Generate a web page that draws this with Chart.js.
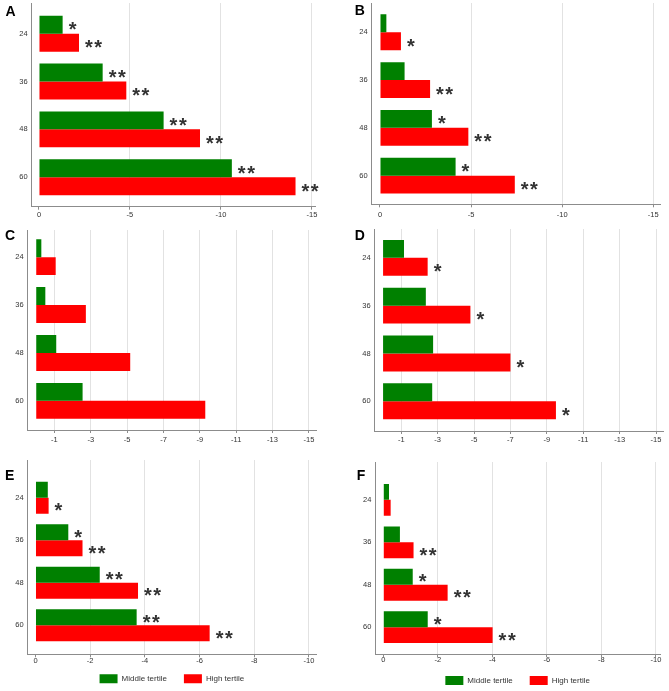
<!DOCTYPE html>
<html>
<head>
<meta charset="utf-8">
<script src="https://cdn.jsdelivr.net/npm/chart.js@4/dist/chart.umd.min.js"></script>
<style>
html, body { margin: 0; padding: 0; background: #fff; width: 669px; height: 691px; overflow: hidden; }
.panel { position: absolute; }
.panel canvas { display: block; }
.letter { position: absolute; font: bold 14px "Liberation Sans", Arial, sans-serif; line-height: 14px; color: #000; }
</style>
</head>
<body>
<div class="panel" style="left:0px;top:0px"><canvas id="cA" width="335" height="225"></canvas></div>
<div class="panel" style="left:335px;top:0px"><canvas id="cB" width="334" height="225"></canvas></div>
<div class="panel" style="left:0px;top:225px"><canvas id="cC" width="335" height="230"></canvas></div>
<div class="panel" style="left:335px;top:225px"><canvas id="cD" width="334" height="230"></canvas></div>
<div class="panel" style="left:0px;top:455px"><canvas id="cE" width="335" height="250"></canvas></div>
<div class="panel" style="left:335px;top:455px"><canvas id="cF" width="334" height="250"></canvas></div>
<div class="letter" style="left:5.5px;top:4px">A</div>
<div class="letter" style="left:354.7px;top:3px">B</div>
<div class="letter" style="left:5px;top:228px">C</div>
<div class="letter" style="left:354.7px;top:228px">D</div>
<div class="letter" style="left:5px;top:468px">E</div>
<div class="letter" style="left:356.7px;top:468px">F</div>
<script>
// ---------- data ----------
const months = [24, 36, 48, 60];
const seriesNames = ['Middle tertile', 'High tertile'];

const ticksAB = [0, -5, -10, -15];
const ticksCD = [-1, -3, -5, -7, -9, -11, -13, -15];
const ticksEF = [0, -2, -4, -6, -8, -10];

const midA  = [-1.3, -3.5, -6.85, -10.6];
const highA = [-2.2, -4.8, -8.85, -14.1];
const midB  = [-0.35, -1.35, -2.85, -4.15];
const highB = [-1.15, -2.75, -4.85, -7.4];
const midC  = [-0.28, -0.5, -1.1, -2.55];
const highC = [-1.07, -2.73, -5.17, -9.3];
const midD  = [-1.15, -2.35, -2.75, -2.7];
const highD = [-2.45, -4.8, -7.0, -9.5];
const midE  = [-0.45, -1.2, -2.35, -3.7];
const highE = [-0.48, -1.72, -3.75, -6.37];
const midF  = [-0.21, -0.61, -1.08, -1.63];
const highF = [-0.27, -1.11, -2.36, -4.01];

const starsMidA  = ['*', '**', '**', '**'];
const starsHighA = ['**', '**', '**', '**'];
const starsMidB  = ['', '', '*', '*'];
const starsHighB = ['*', '**', '**', '**'];
const starsMidC  = ['', '', '', ''];
const starsHighC = ['', '', '', ''];
const starsMidD  = ['', '', '', ''];
const starsHighD = ['*', '*', '*', '*'];
const starsMidE  = ['', '*', '**', '**'];
const starsHighE = ['*', '**', '**', '**'];
const starsMidF  = ['', '', '*', '*'];
const starsHighF = ['', '**', '**', '**'];

// ---------- styles / layout ----------
const GREEN = '#008000';
const RED = '#ff0000';
const AXIS = '#8c8c8c';
const GRID = '#e2e2e2';
const TEXT = '#333333';
const FONT = '"Liberation Sans", Arial, sans-serif';

Chart.defaults.font.family = FONT;
Chart.defaults.color = TEXT;

const panels = [
  { canvas: 'cA', mid: midA, high: highA, sm: starsMidA, sh: starsHighA, ticks: ticksAB,
    w: 335, h: 225, left: 31.7, right: 315, top: 3, bottom: 206.7,
    xMin: -15.17, xMax: 0.40, yMin: 16.3, yMax: 67.4, tickPad: 1, legend: false },
  { canvas: 'cB', mid: midB, high: highB, sm: starsMidB, sh: starsHighB, ticks: ticksAB,
    w: 334, h: 225, left: 36.7, right: 325, top: 3, bottom: 204.3,
    xMin: -15.37, xMax: 0.455, yMin: 16.65, yMax: 67.2, tickPad: 2.8, legend: false },
  { canvas: 'cC', mid: midC, high: highC, sm: starsMidC, sh: starsHighC, ticks: ticksCD,
    w: 335, h: 230, left: 27.7, right: 316.7, top: 5, bottom: 205,
    xMin: -15.43, xMax: 0.47, yMin: 17.2, yMax: 67.3, tickPad: 2, legend: false },
  { canvas: 'cD', mid: midD, high: highD, sm: starsMidD, sh: starsHighD, ticks: ticksCD,
    w: 334, h: 230, left: 39.7, right: 328.3, top: 4, bottom: 206,
    xMin: -15.4, xMax: 0.46, yMin: 16.76, yMax: 67.46, tickPad: 1, legend: false },
  { canvas: 'cE', mid: midE, high: highE, sm: starsMidE, sh: starsHighE, ticks: ticksEF,
    w: 335, h: 250, left: 27.7, right: 316, top: 5, bottom: 199.3,
    xMin: -10.26, xMax: 0.285, yMin: 13.35, yMax: 68.2, tickPad: -0.8, legend: true, legendBoxTop: 219.2 },
  { canvas: 'cF', mid: midF, high: highF, sm: starsMidF, sh: starsHighF, ticks: ticksEF,
    w: 334, h: 250, left: 40.3, right: 325, top: 7, bottom: 199.3,
    xMin: -10.15, xMax: 0.293, yMin: 13.3, yMax: 67.66, tickPad: -1.5, legend: true, legendBoxTop: 221 }
];

const LEGEND_BOX_W = 18, LEGEND_BOX_H = 9, LEGEND_FONT = 8, LEGEND_PAD = 17;
const X_AXIS_H_LEGEND = 12;

// significance marks drawn next to the end of each bar
const starPlugin = {
  id: 'stars',
  afterDatasetsDraw(chart, args, opts) {
    const ctx = chart.ctx;
    ctx.save();
    ctx.font = 'bold 20px ' + FONT;
    ctx.fillStyle = TEXT;
    ctx.textAlign = 'left';
    ctx.textBaseline = 'alphabetic';
    try { ctx.letterSpacing = '1.5px'; } catch (e) {}
    (opts.marks || []).forEach((marks, di) => {
      const meta = chart.getDatasetMeta(di);
      meta.data.forEach((el, i) => {
        const m = marks[i];
        if (!m) return;
        ctx.fillText(m, el.x + 6, el.y + 11.5);
      });
    });
    ctx.restore();
  }
};

// moves the legend row so its boxes sit at the requested height
const legendPlacePlugin = {
  id: 'legendPlace',
  afterLayout(chart, args, opts) {
    const lg = chart.legend;
    if (!lg || opts.boxTop == null || !lg.options.display) return;
    const pad = lg.options.labels.padding;
    const d = (lg.top + pad) - opts.boxTop;
    lg.top -= d;
    lg.bottom -= d;
  }
};

function makePanel(p) {
  const legendH = p.legend ? (Math.max(LEGEND_FONT, LEGEND_BOX_H) + LEGEND_PAD + 10) : 0;
  const pl = 2;
  const yW = p.left - pl;
  const pr = p.w - p.right;
  let xH, pb;
  if (p.legend) {
    xH = X_AXIS_H_LEGEND;
    pb = p.h - legendH - xH - p.bottom;
  } else {
    pb = 0;
    xH = p.h - p.bottom;
  }
  const toPts = arr => arr.map((v, i) => ({ x: v, y: months[i] }));
  new Chart(document.getElementById(p.canvas), {
    type: 'bar',
    data: {
      datasets: [
        { label: seriesNames[0], data: toPts(p.mid), backgroundColor: GREEN, borderWidth: 0,
          categoryPercentage: 0.75, barPercentage: 1.0 },
        { label: seriesNames[1], data: toPts(p.high), backgroundColor: RED, borderWidth: 0,
          categoryPercentage: 0.75, barPercentage: 1.0 }
      ]
    },
    options: {
      indexAxis: 'y',
      responsive: false,
      animation: false,
      events: [],
      layout: { padding: { left: pl, right: pr, top: p.top, bottom: pb } },
      scales: {
        x: {
          type: 'linear',
          reverse: true,
          offset: false,
          min: p.xMin,
          max: p.xMax,
          afterBuildTicks: s => { s.ticks = p.ticks.map(v => ({ value: v })); },
          afterFit: s => { s.height = xH; s.paddingLeft = 0; s.paddingRight = 0; s.paddingTop = 0; s.paddingBottom = 0; },
          ticks: { autoSkip: false, maxRotation: 0, padding: p.tickPad, color: TEXT,
                   font: { size: 7.5 }, callback: v => String(v) },
          grid: {
            color: c => (c.tick && c.tick.value === 0) ? 'rgba(0,0,0,0)' : GRID,
            tickColor: AXIS, tickLength: 3, lineWidth: 1
          },
          border: { display: true, color: AXIS, width: 1 }
        },
        y: {
          type: 'linear',
          position: 'left',
          reverse: true,
          offset: false,
          min: p.yMin,
          max: p.yMax,
          afterBuildTicks: s => { s.ticks = months.map(v => ({ value: v })); },
          afterFit: s => { s.width = yW; s.paddingTop = 0; s.paddingBottom = 0; s.paddingLeft = 0; s.paddingRight = 0; },
          ticks: { autoSkip: false, padding: 4, color: TEXT, font: { size: 7.5 },
                   callback: v => String(v) },
          grid: { display: true, offset: false, color: 'rgba(0,0,0,0)', drawTicks: false },
          border: { display: true, color: AXIS, width: 1 }
        }
      },
      plugins: {
        legend: {
          display: p.legend,
          position: 'bottom',
          fullSize: false,
          labels: { boxWidth: LEGEND_BOX_W, boxHeight: LEGEND_BOX_H, padding: LEGEND_PAD,
                    color: TEXT, font: { size: LEGEND_FONT } }
        },
        legendPlace: { boxTop: p.legend ? p.legendBoxTop : null },
        tooltip: { enabled: false },
        title: { display: false },
        stars: { marks: [p.sm, p.sh] }
      }
    },
    plugins: [starPlugin, legendPlacePlugin]
  });
}

panels.forEach(makePanel);
</script>
</body>
</html>
